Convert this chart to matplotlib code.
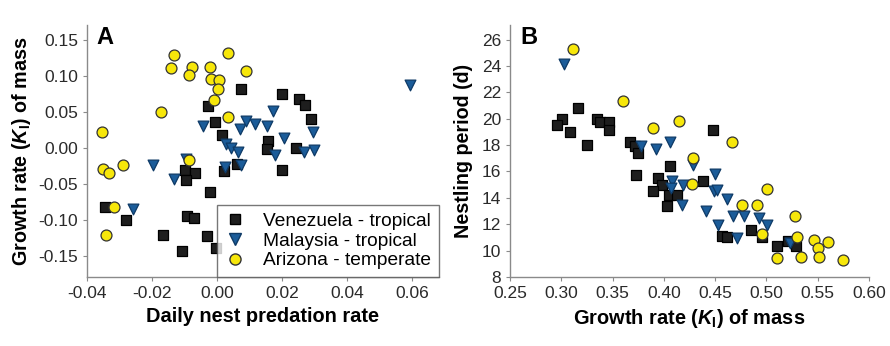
import numpy as np
import matplotlib.pyplot as plt
from matplotlib.lines import Line2D

plt.rcParams['font.family'] = ['Liberation Sans Narrow', 'Liberation Sans', 'DejaVu Sans']
plt.rcParams['mathtext.fontset'] = 'custom'
plt.rcParams['mathtext.rm'] = 'Liberation Sans:bold'
plt.rcParams['mathtext.it'] = 'Liberation Sans:italic:bold'
plt.rcParams['mathtext.bf'] = 'Liberation Sans:bold'

# panel A: daily nest predation rate vs growth rate
ven_pred = [0.0075, 0.0201, 0.0253, 0.0270, 0.0290, -0.0027, -0.0007, 0.0015, 0.0157, 0.0154,
            0.0244, 0.0201, 0.0060, 0.0020, -0.0097, -0.0067, -0.0095, -0.0021, -0.0344, -0.0279,
            -0.0091, -0.0070, -0.0166, -0.0032, -0.0004, -0.0108]
ven_grow = [0.0824, 0.0755, 0.0676, 0.0597, 0.0398, 0.0583, 0.0366, 0.0185, 0.0102, -0.0009,
            0.0000, -0.0310, -0.0227, -0.0319, -0.0310, -0.0343, -0.0449, -0.0611, -0.0819, -0.0995,
            -0.0940, -0.0972, -0.1213, -0.1222, -0.1394, -0.1435]
mal_pred = [0.0595, 0.0171, -0.0044, 0.0072, 0.0090, 0.0118, 0.0153, 0.0205, 0.0295, 0.0029,
            0.0044, 0.0064, 0.0267, 0.0297, 0.0177, -0.0094, -0.0197, 0.0024, 0.0074, -0.0131, -0.0258]
mal_grow = [0.0870, 0.0509, 0.0306, 0.0269, 0.0375, 0.0329, 0.0306, 0.0144, 0.0222, 0.0051,
            0.0000, -0.0056, -0.0056, -0.0032, -0.0093, -0.0148, -0.0241, -0.0264, -0.0231, -0.0435, -0.0852]
ari_pred = [-0.0132, 0.0035, -0.0143, -0.0077, -0.0085, -0.0021, 0.0088, -0.0017, 0.0007, 0.0002,
            -0.0010, -0.0173, 0.0035, -0.0354, -0.0087, -0.0290, -0.0351, -0.0331, -0.0317, -0.0341]
ari_grow = [0.1296, 0.1324, 0.1110, 0.1125, 0.1014, 0.1125, 0.1074, 0.0958, 0.0940, 0.0824,
            0.0671, 0.0495, 0.0426, 0.0222, -0.0162, -0.0241, -0.0292, -0.0343, -0.0824, -0.1204]

# panel B: growth rate vs nestling period
ven_k = [0.3166, 0.3007, 0.2955, 0.3085, 0.3254, 0.3345, 0.3377, 0.3468, 0.3468, 0.3670,
         0.3719, 0.3751, 0.3728, 0.4060, 0.4482, 0.3946, 0.3978, 0.3891, 0.4050, 0.4125,
         0.4034, 0.4385, 0.4564, 0.4619, 0.4850, 0.4954, 0.5106, 0.5214, 0.5288]
ven_days = [20.83, 20.00, 19.52, 19.02, 17.98, 19.98, 19.77, 19.77, 19.14, 18.26,
            17.96, 17.38, 15.74, 16.42, 19.14, 15.49, 14.98, 14.50, 14.23, 14.18,
            13.35, 15.24, 11.08, 11.03, 11.53, 11.03, 10.37, 10.70, 10.32]
mal_k = [0.3030, 0.3777, 0.3924, 0.4060, 0.4281, 0.4499, 0.4083, 0.4184, 0.4070, 0.4489,
         0.4520, 0.4612, 0.4174, 0.4411, 0.4671, 0.4785, 0.4928, 0.5009, 0.4531, 0.4710, 0.5230]
mal_days = [24.18, 17.96, 17.71, 18.26, 16.50, 15.82, 15.24, 14.98, 14.73, 14.55,
            14.60, 13.90, 13.47, 12.97, 12.64, 12.59, 12.46, 11.96, 11.96, 10.95, 10.57]
ari_k = [0.3114, 0.3598, 0.3891, 0.4151, 0.4664, 0.4287, 0.4278, 0.5009, 0.4762, 0.4905,
         0.5279, 0.4960, 0.5295, 0.5464, 0.5604, 0.5506, 0.5100, 0.5334, 0.5513, 0.5750]
ari_days = [25.27, 21.36, 19.27, 19.85, 18.26, 17.05, 15.08, 14.68, 13.42, 13.45,
            12.61, 11.28, 11.03, 10.77, 10.65, 10.19, 9.44, 9.51, 9.49, 9.31]

labels = ['Venezuela - tropical', 'Malaysia - tropical', 'Arizona - temperate']
black = '#1e1e1e'
blue = '#1b5c99'
yellow = '#f7e70a'
grey = '#8a8a8a'
bold_font = ['Liberation Sans', 'DejaVu Sans']

fig = plt.figure(figsize=(8.9, 3.46), dpi=100)
axA = fig.add_axes([87/890, 69/346, 352/890, 252/346])
axB = fig.add_axes([510/890, 69/346, 359/890, 252/346])


def draw(ax, sets):
    styles = [dict(marker='s', s=52, c=black, edgecolors='#000000'),
              dict(marker='v', s=60, c=blue, edgecolors='#0e3a66'),
              dict(marker='o', s=62, c=yellow, edgecolors='#333333')]
    for (x, y), st in zip(sets, styles):
        ax.scatter(x, y, linewidths=0.9, zorder=3, **st)
    for side in ['top', 'right']:
        ax.spines[side].set_visible(False)
    for side in ['left', 'bottom']:
        ax.spines[side].set_color(grey)
        ax.spines[side].set_linewidth(1.0)
    ax.tick_params(colors=grey, labelcolor='#2a2a2a', labelsize=12.5, length=3, width=0.8)


draw(axA, [(ven_pred, ven_grow), (mal_pred, mal_grow), (ari_pred, ari_grow)])
draw(axB, [(ven_k, ven_days), (mal_k, mal_days), (ari_k, ari_days)])

axA.set_xlim(-0.04, 0.0683)
axA.set_ylim(-0.179, 0.171)
axA.set_xticks([-0.04, -0.02, 0.0, 0.02, 0.04, 0.06])
axA.set_xticklabels(['-0.04', '-0.02', '0.00', '0.02', '0.04', '0.06'])
axA.set_yticks([-0.15, -0.10, -0.05, 0.0, 0.05, 0.10, 0.15])
axA.set_yticklabels(['-0.15', '-0.10', '-0.05', '0.00', '0.05', '0.10', '0.15'])
axA.set_xlabel('Daily nest predation rate', fontsize=14.4, fontweight='bold',
               family=bold_font, labelpad=4)
axA.set_ylabel(r'Growth rate ($\mathit{K}_\mathrm{I}$) of mass', fontsize=14.2, fontweight='bold',
               family=bold_font, labelpad=4)
axA.text(0.028, 0.995, 'A', transform=axA.transAxes, fontsize=17, fontweight='bold',
         family=bold_font, va='top', ha='left')

axB.set_xlim(0.25, 0.60)
axB.set_ylim(8, 27.1)
axB.set_xticks([0.25, 0.30, 0.35, 0.40, 0.45, 0.50, 0.55, 0.60])
axB.set_xticklabels(['0.25', '0.30', '0.35', '0.40', '0.45', '0.50', '0.55', '0.60'])
axB.set_yticks(range(8, 27, 2))
axB.set_xlabel(r'Growth rate ($\mathit{K}_\mathrm{I}$) of mass', fontsize=14.4, fontweight='bold',
               family=bold_font, labelpad=4)
axB.set_ylabel('Nestling period (d)', fontsize=14.2, fontweight='bold',
               family=bold_font, labelpad=6)
axB.text(0.028, 0.995, 'B', transform=axB.transAxes, fontsize=17, fontweight='bold',
         family=bold_font, va='top', ha='left')

handles = [Line2D([], [], ls='none', marker='s', ms=7.2, mfc=black, mec='#000000'),
           Line2D([], [], ls='none', marker='v', ms=8, mfc=blue, mec='#0e3a66'),
           Line2D([], [], ls='none', marker='o', ms=8, mfc=yellow, mec='#333333')]
leg = axA.legend(handles, labels, loc='lower right', bbox_to_anchor=(1.0, 0.0),
                 borderaxespad=0, fontsize=13.8, frameon=True, fancybox=False,
                 handlelength=1.0, handletextpad=1.0, labelspacing=0.12, borderpad=0.4)
leg.get_frame().set_edgecolor('#555555')
leg.get_frame().set_linewidth(1.0)

fig.savefig('out.png', dpi=100)
